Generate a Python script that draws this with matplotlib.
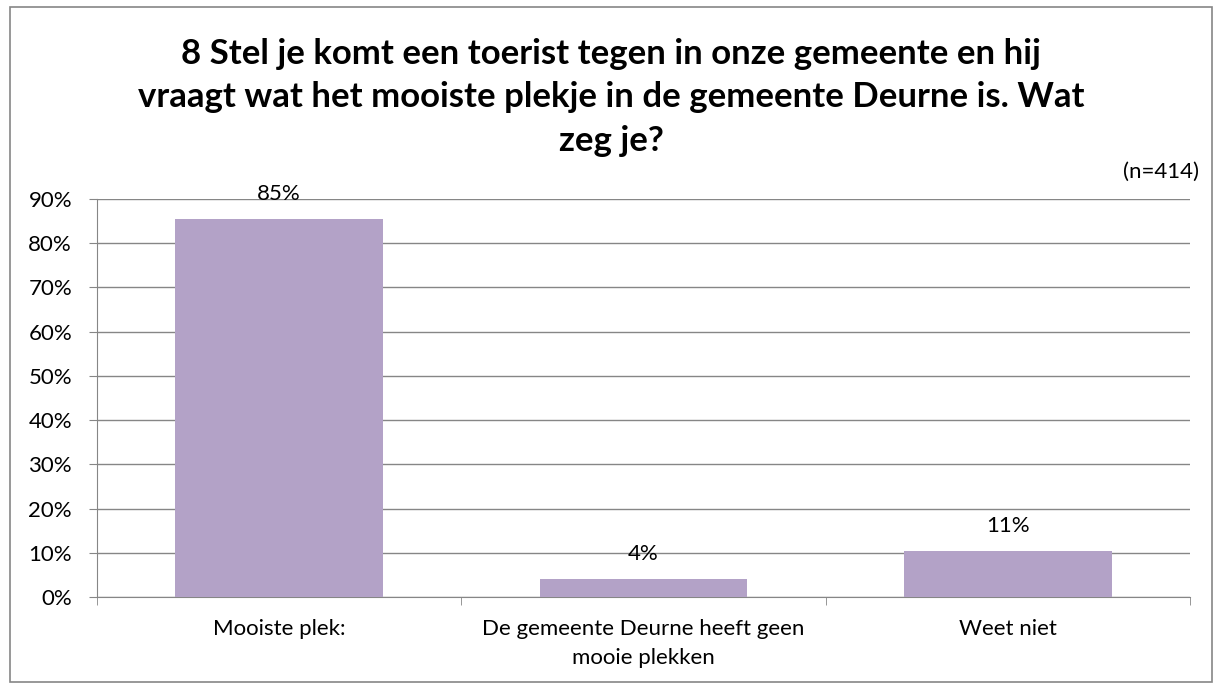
import matplotlib
matplotlib.use('Agg')
import matplotlib.pyplot as plt
from matplotlib.patches import Rectangle
import numpy as np

categories = ['Mooiste plek:', 'De gemeente Deurne heeft geen\nmooie plekken', 'Weet niet']
values = [85.5, 4.1, 10.4]
labels = ['85%', '4%', '11%']
title_lines = ['8 Stel je komt een toerist tegen in onze gemeente en hij',
               'vraagt wat het mooiste plekje in de gemeente Deurne is. Wat',
               'zeg je?']

plt.rcParams['font.family'] = ['Lato', 'DejaVu Sans']

W, H = 1215, 684
fig = plt.figure(figsize=(W / 100, H / 100), dpi=100)
ax = fig.add_axes([97 / W, 1 - 597 / H, (1190 - 97) / W, (597 - 199) / H])

x = np.arange(len(categories))
ax.bar(x, values, width=0.57, color='#B3A2C7', zorder=3)
for xi, v, lab in zip(x, values, labels):
    ax.annotate(lab, (xi, v), xytext=(0, 11), textcoords='offset points',
                ha='center', va='bottom', fontsize=16, color='black')

ax.set_xlim(-0.5, 2.5)
ax.set_ylim(0, 90)
ax.set_yticks(range(0, 91, 10))
ax.set_yticklabels([f'{t}%' for t in range(0, 91, 10)], fontsize=16)
ax.yaxis.grid(True, color='#868686', linewidth=1, zorder=0)

ax.set_xticks(x)
ax.set_xticklabels(categories, fontsize=16, linespacing=1.55)
ax.tick_params(axis='x', length=0, pad=16)
ax.set_xticks([-0.5, 0.5, 1.5, 2.5], minor=True)
ax.tick_params(axis='x', which='minor', length=6, color='#868686', direction='out')
ax.tick_params(axis='y', length=6, color='#868686', direction='out', pad=12)

for s in ['top', 'right']:
    ax.spines[s].set_visible(False)
ax.spines['left'].set_color('#868686')
ax.spines['bottom'].set_color('#868686')

# titel: drie regels, baselines zoals in het origineel
for line, yb in zip(title_lines, [64, 107, 151]):
    fig.text(611 / W, 1 - yb / H, line, ha='center', va='baseline', fontsize=25,
             fontweight='bold')
fig.text(1199 / W, 1 - 172 / H, '(n=414)', ha='right', va='center', fontsize=16)

fig.patches.append(Rectangle((10 / W, 2 / H), 1202 / W, 1 - 9 / H,
                             transform=fig.transFigure, fill=False,
                             edgecolor='#868686', linewidth=1.2))

fig.savefig('out.png', dpi=100)
